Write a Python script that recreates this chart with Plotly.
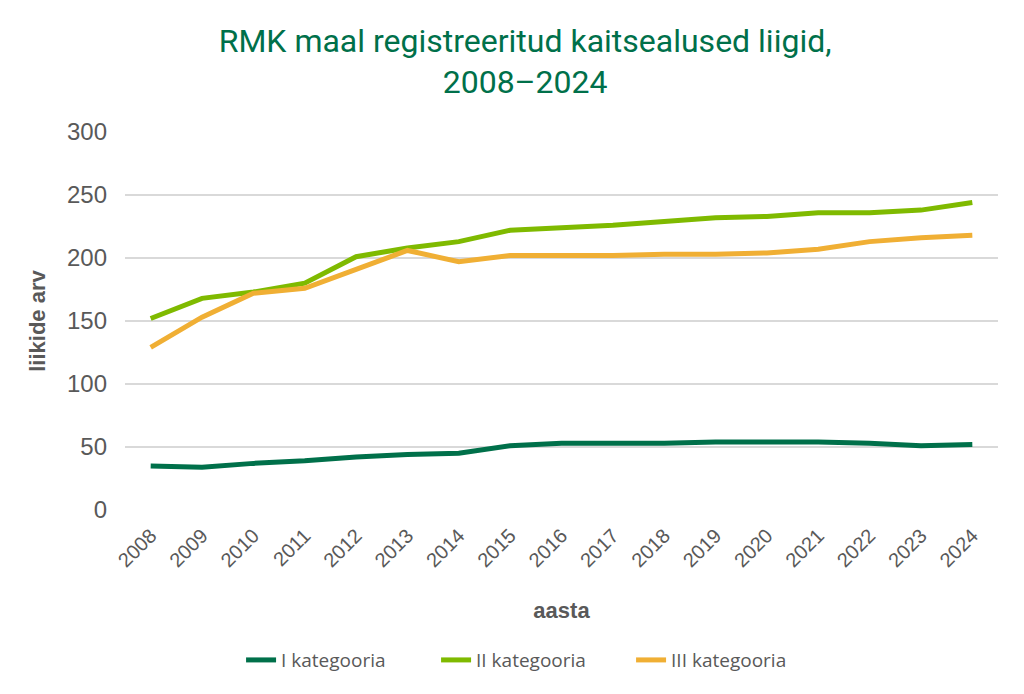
import plotly.graph_objects as go

years = list(range(2008, 2025))
cat_I = [35, 34, 37, 39, 42, 44, 45, 51, 53, 53, 53, 54, 54, 54, 53, 51, 52]
cat_II = [152, 168, 173, 180, 201, 208, 213, 222, 224, 226, 229, 232, 233, 236, 236, 238, 244]
cat_III = [129, 153, 172, 176, 191, 206, 197, 202, 202, 202, 203, 203, 204, 207, 213, 216, 218]

series = [
    ("I kategooria", cat_I, "#00704A"),
    ("II kategooria", cat_II, "#7FBA00"),
    ("III kategooria", cat_III, "#F0AF34"),
]

fig = go.Figure()
for name, vals, col in series:
    fig.add_trace(go.Scatter(x=years, y=vals, name=name, mode="lines",
                             line=dict(color=col, width=5)))

axis_font = "Liberation Sans, Arial, sans-serif"
fig.update_layout(
    width=1024, height=694,
    margin=dict(l=117, r=34, t=124, b=192),
    paper_bgcolor="white", plot_bgcolor="white",
    font=dict(family=axis_font, color="#595959"),
    title=dict(text="RMK maal registreeritud kaitsealused liigid,<br>2008–2024",
               x=0.505, xanchor="center", y=0.937, yanchor="middle",
               font=dict(family="Roboto, sans-serif", size=32, color="#00704A", weight=400)),
    xaxis=dict(range=[2007.5, 2024.5], tickvals=years, ticktext=[str(y) for y in years],
               tickangle=-45, tickfont=dict(family=axis_font, size=20, color="#595959"),
               ticklabelstandoff=9,
               showgrid=False, showline=False, zeroline=False, ticks="",
               title=dict(text="<b>aasta</b>", font=dict(family=axis_font, size=22, color="#595959"), standoff=32)),
    yaxis=dict(range=[0, 300], dtick=50, tickfont=dict(family=axis_font, size=24, color="#595959"),
               gridcolor="#D9D9D9", gridwidth=1.5, zeroline=False, showline=False,
               ticklabelstandoff=17,
               title=dict(text="<b>liikide arv</b>", font=dict(family=axis_font, size=22, color="#595959"), standoff=15)),
    legend=dict(orientation="h", x=0.468, xanchor="center", y=-0.397, yanchor="middle",
                entrywidth=150, entrywidthmode="pixels",
                font=dict(family="Open Sans, sans-serif", size=19, color="#595959")),
    showlegend=True,
)

fig.write_html("out.html")
